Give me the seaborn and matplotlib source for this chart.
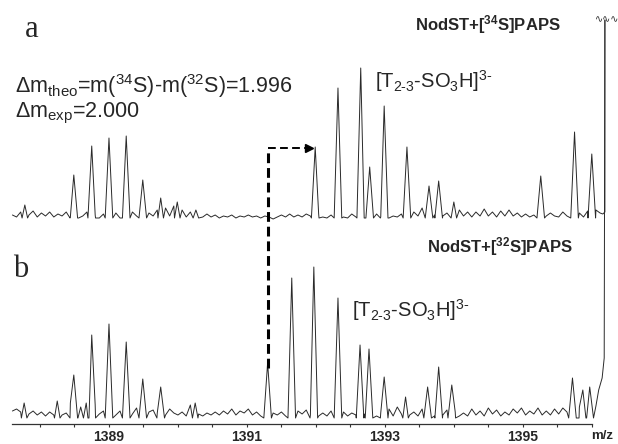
import numpy as np
import pandas as pd
import matplotlib
matplotlib.use("Agg")
import matplotlib.pyplot as plt
import seaborn as sns

##### DATA
# baseline noise, one value every 0.06 m/z starting at 1387.60
noise_start = 1387.60
noise_step = 0.06

noise_a = [5, 3, 8, 13, 5, 9, 3, 7, 4, 8, 3, 6,
           4, 8, 3, 7, 2, 4, 8, 3, 5, 2, 6, 3,
           4, 7, 2, 5, 3, 8, 4, 6, 3, 7, 4, 10,
           5, 12, 4, 14, 5, 10, 3, 8, 4, 9, 3, 6,
           3, 5, 2, 4, 3, 5, 2, 4, 3, 5, 3, 4,
           2, 4, 3, 1, 3, 5, 3, 6, 3, 5, 3, 6,
           4, 3, 6, 3, 2, 5, 3, 7, 3, 2, 6, 3,
           4, 2, 5, 3, 6, 3, 5, 2, 4, 3, 6, 3,
           5, 8, 4, 12, 7, 14, 5, 10, 4, 7, 3, 5,
           10, 4, 8, 3, 8, 4, 11, 4, 8, 3, 9, 4,
           10, 4, 7, 3, 6, 3, 5, 3, 8, 4, 7, 4,
           3, 8, 4, 10, 4, 7, 3, 9, 4, 10, 7, 5]

noise_b = [9, 11, 8, 15, 6, 9, 5, 8, 4, 8, 5, 7,
           5, 7, 17, 9, 4, 6, 4, 12, 15, 6, 9, 5,
           7, 5, 9, 5, 10, 6, 12, 8, 11, 8, 10, 7,
           9, 5, 11, 7, 5, 8, 4, 15, 5, 6, 4, 7,
           5, 8, 5, 9, 6, 11, 5, 9, 7, 11, 5, 8,
           4, 7, 4, 7, 5, 8, 4, 7, 5, 9, 6, 10,
           5, 8, 4, 7, 4, 9, 5, 4, 8, 4, 7, 5,
           4, 6, 4, 9, 4, 7, 5, 11, 4, 13, 6, 9,
           5, 8, 4, 11, 6, 9, 4, 8, 5, 10, 4, 8,
           4, 7, 4, 11, 5, 9, 4, 12, 6, 10, 4, 8,
           5, 11, 7, 12, 5, 9, 6, 12, 5, 9, 5, 11,
           6, 12, 8, 15, 9, 13, 7, 11, 9, 14, 20, 26]

# peaks: NodST + [34S]PAPS (a)
peak_a_mz = [1387.78, 1388.49, 1388.75, 1389.00, 1389.25, 1389.49, 1389.75,
             1389.99, 1390.26, 1391.99, 1392.32, 1392.65, 1392.78, 1392.99,
             1393.32, 1393.64, 1393.78, 1394.00, 1395.26, 1395.75, 1396.00]
peak_a_int = [15, 45, 74, 82, 84, 40, 22, 18, 10, 73, 132, 152, 53, 114,
              73, 34, 39, 18, 44, 88, 66]

# peaks: NodST + [32S]PAPS (b)
peak_b_mz = [1387.77, 1388.25, 1388.49, 1388.59, 1388.67, 1388.75, 1389.00,
             1389.25, 1389.49, 1389.75, 1390.25, 1391.30, 1391.65, 1391.97,
             1392.32, 1392.64, 1392.77, 1392.99, 1393.30, 1393.62, 1393.78,
             1393.97, 1395.72, 1395.87, 1395.97]
peak_b_int = [17, 19, 45, 13, 17, 85, 96, 78, 41, 33, 17, 57, 142, 153,
              122, 75, 71, 43, 23, 33, 53, 35, 42, 30, 33]

# off-scale signal at the right edge
tail_a_mz = [1396.16, 1396.19, 1396.19]
tail_a_int = [6, 8, 200]
tail_b_mz = [1396.10, 1396.15, 1396.18, 1396.19]
tail_b_int = [30, 42, 62, 400]

shift_mz = [1391.30, 1391.94]   # 32S peak -> 34S peak
offset_a = 200                  # vertical offset of trace a


def build_trace(noise, peak_mz, peak_int, tail_mz, tail_int):
    grid = np.round(noise_start + noise_step * np.arange(len(noise)), 3)
    noise = np.asarray(noise, dtype=float)
    keep = grid < tail_mz[0]
    for m in peak_mz:
        keep &= np.abs(grid - m) > 0.045
    xs = list(grid[keep])
    ys = list(noise[keep])
    for m, h in zip(peak_mz, peak_int):
        hw = 0.04 if h < 30 else 0.055   # bigger peaks are a bit wider
        xs += [m - hw, m, m + hw]
        ys += [2, h, 2]
    order = np.argsort(xs, kind="stable")
    xs = list(np.array(xs)[order]) + list(tail_mz)
    ys = list(np.array(ys)[order]) + list(tail_int)
    return pd.DataFrame({"mz": xs, "intensity": ys})


df_a = build_trace(noise_a, peak_a_mz, peak_a_int, tail_a_mz, tail_a_int)
df_a["intensity"] += offset_a
df_b = build_trace(noise_b, peak_b_mz, peak_b_int, tail_b_mz, tail_b_int)

##### STYLE
sns.set_theme(style="white")
plt.rcParams["font.family"] = ["Liberation Sans", "DejaVu Sans"]
plt.rcParams["mathtext.fontset"] = "custom"
plt.rcParams["mathtext.rm"] = "Liberation Sans"
plt.rcParams["mathtext.it"] = "Liberation Sans:italic"
plt.rcParams["mathtext.bf"] = "Liberation Sans:bold"
plt.rcParams["mathtext.sf"] = "Liberation Sans"

fig = plt.figure(figsize=(6.18, 4.44), dpi=100)
ax = fig.add_axes([0, 20 / 444, 1, 424 / 444])

line_col = "#2a2a2a"
sns.lineplot(data=df_b, x="mz", y="intensity", sort=False, estimator=None,
             color=line_col, lw=0.7, ax=ax)
sns.lineplot(data=df_a, x="mz", y="intensity", sort=False, estimator=None,
             color=line_col, lw=0.7, ax=ax)

ax.set_xlim(1387.42, 1396.38)
ax.set_ylim(-4, 420)

# axes: only the bottom line with m/z ticks
for s in ["left", "top", "right"]:
    ax.spines[s].set_visible(False)
ax.spines["bottom"].set_bounds(1387.6, 1396.0)
ax.spines["bottom"].set_color("#333333")
ax.spines["bottom"].set_linewidth(0.9)
ax.set_yticks([])
ax.set_xticks([1389, 1391, 1393, 1395])
ax.set_xticklabels(["1389", "1391", "1393", "1395"], fontsize=10,
                   fontweight="bold")
ax.set_xticks(np.arange(1388, 1396.01, 0.5), minor=True)
ax.tick_params(axis="x", which="both", direction="out", length=2.5,
               width=0.8, color="#333333", pad=2, bottom=True)
ax.set_xlabel("")
ax.set_ylabel("")
fig.text(602 / 618, 1 - 436 / 444, "m/z", ha="center", va="center",
         fontsize=9.5, fontweight="bold")

# shift arrow (dashed)
ax.plot([shift_mz[0], shift_mz[0]], [52, 272], color="black", lw=2.2,
        linestyle=(0, (3.2, 1.6)), solid_capstyle="butt")
ax.plot([shift_mz[0], shift_mz[1] - 0.05], [272, 272], color="black", lw=1.4,
        linestyle=(0, (4, 2.2)))
ax.plot([shift_mz[1] - 0.04], [272], marker=">", color="black",
        markersize=6, linestyle="none")

# off-scale marker on top of the right-hand signal
ax.text(1396.22, 401, "\u223f\u223f\u223f", ha="center", va="center",
        fontsize=7, family="DejaVu Sans", color=line_col)

# panel labels and annotations
ax.text(1387.78, 383, "a", fontsize=22, family="Liberation Serif",
        ha="left", va="baseline")
ax.text(1387.61, 143, "b", fontsize=22, family="Liberation Serif",
        ha="left", va="baseline")
ax.text(1387.64, 327,
        "\u0394m$_{\\rm theo}$=m($^{\\rm 34}$S)-m($^{\\rm 32}$S)=1.996",
        fontsize=15.5, ha="left", va="baseline")
ax.text(1387.64, 303, "\u0394m$_{\\rm exp}$=2.000",
        fontsize=15.5, ha="left", va="baseline")

ion = "[T$_{\\rm 2\\text{-}3}$-SO$_{\\rm 3}$H]$^{\\rm 3\\text{-}}$"
ax.text(1392.86, 332, ion, fontsize=14.5, ha="left", va="baseline")
ax.text(1392.52, 103, ion, fontsize=14.5, ha="left", va="baseline")

ax.text(1393.43, 390, "NodST+[$^{\\mathbf{34}}$S]PAPS", fontsize=12,
        fontweight="bold", ha="left", va="baseline")
ax.text(1393.61, 168, "NodST+[$^{\\mathbf{32}}$S]PAPS", fontsize=12,
        fontweight="bold", ha="left", va="baseline")

fig.savefig("out.png", dpi=100)
